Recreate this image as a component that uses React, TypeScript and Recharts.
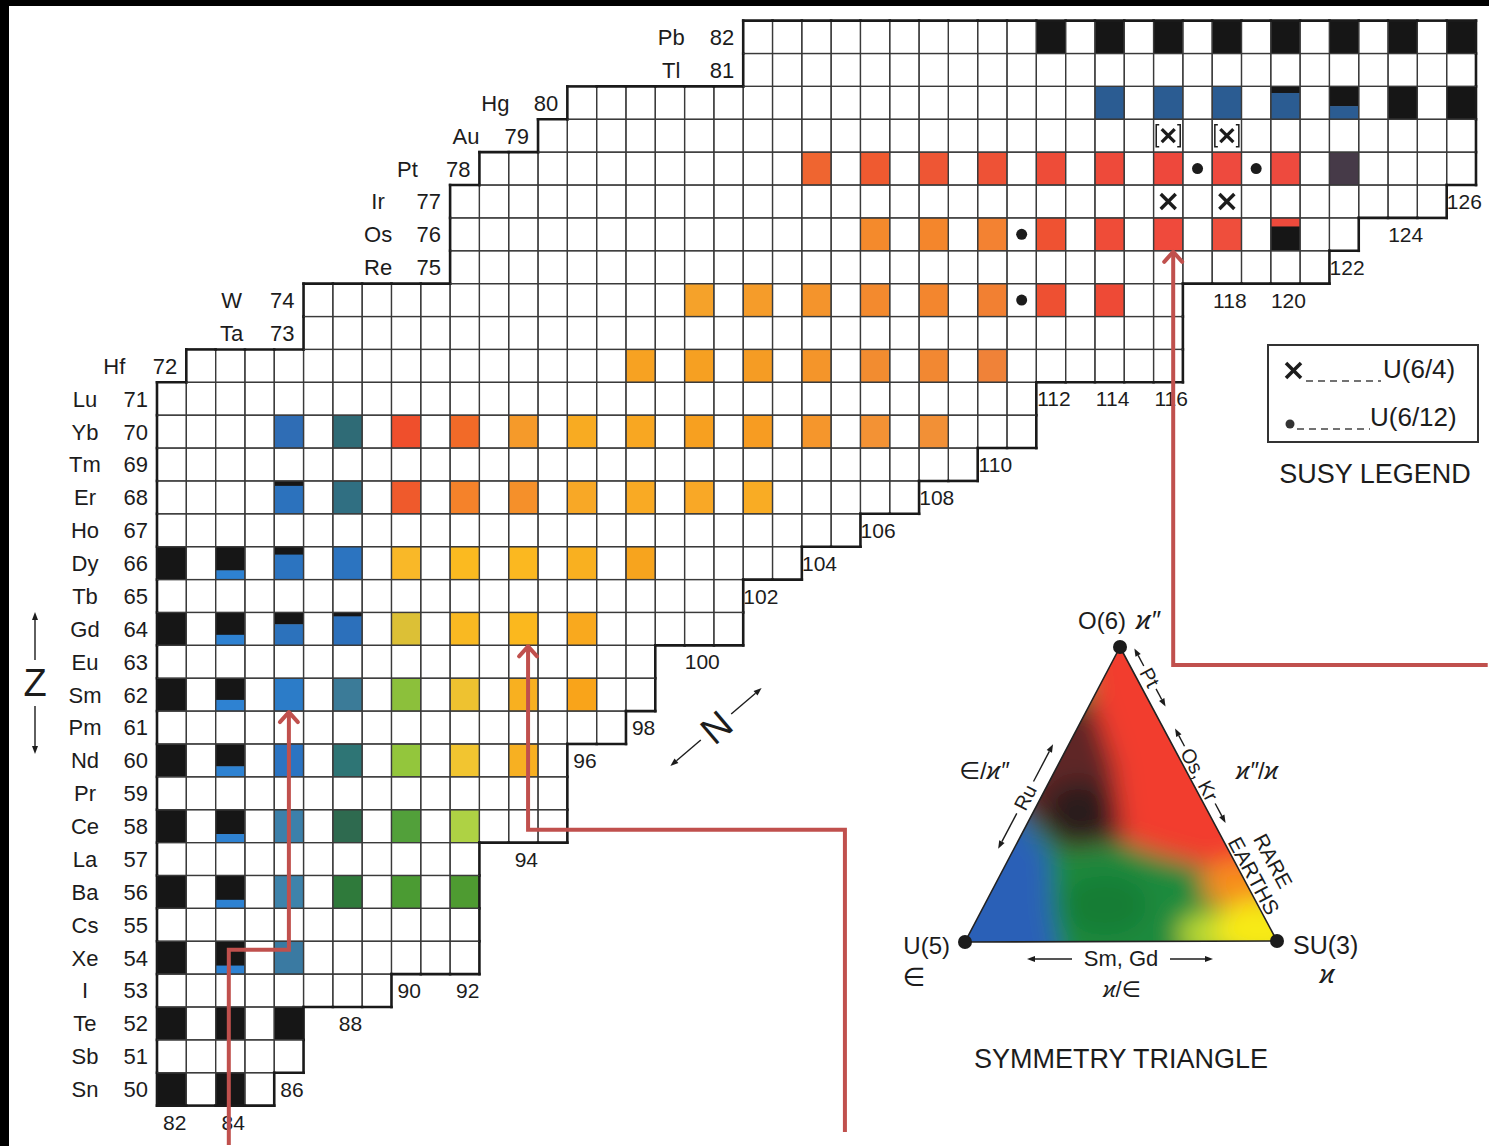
import React from 'react';
import { ScatterChart, Scatter, XAxis, YAxis } from 'recharts';

const CHART_W = 1489;
const CHART_H = 1146;
const N_DOMAIN: [number, number] = [76.144, 126.944];
const Z_DOMAIN: [number, number] = [48.272, 83.128];
const CELL_W = CHART_W / (N_DOMAIN[1] - N_DOMAIN[0]);
const CELL_H = CHART_H / (Z_DOMAIN[1] - Z_DOMAIN[0]);
const FONT = "'Liberation Sans', Arial, Helvetica, 'DejaVu Sans', sans-serif";
const INK = '#1c1c1c';
const RED = '#c0504d';
const BLACK = '#161616';

// Proton numbers (rows) and element symbols
const Z_VALUES = [50, 51, 52, 53, 54, 55, 56, 57, 58, 59, 60, 61, 62, 63, 64, 65, 66, 67, 68, 69, 70, 71, 72, 73, 74, 75, 76, 77, 78, 79, 80, 81, 82];
const ELEMENTS = ['Sn', 'Sb', 'Te', 'I', 'Xe', 'Cs', 'Ba', 'La', 'Ce', 'Pr', 'Nd', 'Pm', 'Sm', 'Eu', 'Gd', 'Tb', 'Dy', 'Ho', 'Er', 'Tm', 'Yb', 'Lu', 'Hf', 'Ta', 'W', 'Re', 'Os', 'Ir', 'Pt', 'Au', 'Hg', 'Tl', 'Pb'];
// Neutron-number range drawn in each row
const ROW_MIN_N = [82, 82, 82, 82, 82, 82, 82, 82, 82, 82, 82, 82, 82, 82, 82, 82, 82, 82, 82, 82, 82, 82, 83, 87, 87, 92, 92, 92, 93, 95, 96, 102, 102];
const ROW_MAX_N = [85, 86, 86, 89, 92, 92, 92, 92, 95, 95, 95, 97, 98, 98, 101, 101, 103, 105, 107, 109, 111, 111, 116, 116, 116, 121, 122, 125, 126, 126, 126, 126, 126];

// Neutron-number tick labels: [N, row in which the label sits]
const N_LABELS: [number, number][] = [
  [82, 49], [84, 49], [86, 50], [88, 52], [90, 53], [92, 53], [94, 57], [96, 60], [98, 61], [100, 63],
  [102, 65], [104, 66], [106, 67], [108, 68], [110, 69], [112, 71], [114, 71], [116, 71], [118, 74],
  [120, 74], [122, 75], [124, 76], [126, 77],
];

// [Z, N] closed-shell (black) cells
const BLACK_CELLS: [number, number][] = [
  [50, 82], [50, 84], [52, 82], [52, 84], [52, 86], [54, 82], [56, 82], [58, 82], [60, 82], [62, 82], [64, 82], [66, 82],
  [80, 124], [80, 126],
  [82, 112], [82, 114], [82, 116], [82, 118], [82, 120], [82, 122], [82, 124], [82, 126],
];

// [Z, N, top colour, bottom colour, top fraction]
const SPLIT_CELLS: [number, number, string, string, number][] = [
  [54, 84, BLACK, '#2e82d2', 0.74], [56, 84, BLACK, '#2e82d2', 0.74], [58, 84, BLACK, '#2e82d2', 0.74],
  [60, 84, BLACK, '#2e82d2', 0.68], [62, 84, BLACK, '#2e82d2', 0.66], [64, 84, BLACK, '#2e82d2', 0.68],
  [66, 84, BLACK, '#2e82d2', 0.72],
  [64, 86, BLACK, '#2c72bc', 0.36], [66, 86, BLACK, '#2c74c0', 0.24], [68, 86, BLACK, '#2c72bd', 0.15],
  [64, 88, BLACK, '#2c70bb', 0.12],
  [80, 120, BLACK, '#2b5c92', 0.2], [80, 122, BLACK, '#2b5c92', 0.6],
  [76, 120, '#ee4a3c', BLACK, 0.26],
];

// [Z, N, colour] from the symmetry triangle
const COLOR_CELLS: [number, number, string][] = [
  [54, 86, '#3a7aa2'],
  [56, 86, '#3e83ab'], [56, 88, '#2f7a3b'], [56, 90, '#4b9b33'], [56, 92, '#4e9b31'],
  [58, 86, '#3c80aa'], [58, 88, '#2e6a4f'], [58, 90, '#52a03a'], [58, 92, '#aed244'],
  [60, 86, '#2b74c2'], [60, 88, '#2e7575'], [60, 90, '#93c63c'], [60, 92, '#f2c530'], [60, 94, '#f7b022'],
  [62, 86, '#2c7cc8'], [62, 88, '#3b7b98'], [62, 90, '#8cc03b'], [62, 92, '#eec230'], [62, 94, '#f8b020'], [62, 96, '#f9a41a'],
  [64, 90, '#dcc036'], [64, 92, '#f9b922'], [64, 94, '#fbb81e'], [64, 96, '#f9a91e'],
  [66, 88, '#2c74c0'], [66, 90, '#f9b828'], [66, 92, '#fbba20'], [66, 94, '#fbb820'], [66, 96, '#f9b020'], [66, 98, '#f7a41e'],
  [68, 88, '#306f82'], [68, 90, '#ef5a2c'], [68, 92, '#f5822a'], [68, 94, '#f5902a'], [68, 96, '#f8a826'], [68, 98, '#f9aa24'], [68, 100, '#f9a826'], [68, 102, '#f9ac24'],
  [70, 86, '#2f6db5'], [70, 88, '#2f6b76'], [70, 90, '#ef4f2c'], [70, 92, '#f26a28'], [70, 94, '#f59a2a'], [70, 96, '#f8ab22'], [70, 98, '#f8a722'], [70, 100, '#f7a020'], [70, 102, '#f79c22'], [70, 104, '#f5962c'], [70, 106, '#f39234'], [70, 108, '#f29036'],
  [72, 98, '#f7a222'], [72, 100, '#f6a022'], [72, 102, '#f59c24'], [72, 104, '#f4952a'], [72, 106, '#f28c30'], [72, 108, '#f28832'], [72, 110, '#f08238'],
  [74, 100, '#f5a22a'], [74, 102, '#f59c2a'], [74, 104, '#f4942c'], [74, 106, '#f38a2e'], [74, 108, '#f3862e'], [74, 110, '#f28032'], [74, 112, '#ee5032'], [74, 114, '#ee4a36'],
  [76, 106, '#f48a2c'], [76, 108, '#f4862c'], [76, 110, '#f38232'], [76, 112, '#ef5232'], [76, 114, '#ef4c38'], [76, 116, '#ef4a3c'], [76, 118, '#ef4e3c'],
  [78, 104, '#ef6530'], [78, 106, '#ef5a30'], [78, 108, '#ee5634'], [78, 110, '#ee5236'], [78, 112, '#ee4c38'], [78, 114, '#ee4a3a'], [78, 116, '#ee483c'], [78, 118, '#ee4a3e'], [78, 120, '#ee4a3e'], [78, 122, '#463a48'],
  [80, 114, '#2b5c92'], [80, 116, '#2b5c92'], [80, 118, '#2b5c92'],
];

// SUSY markers [Z, N]
const U612_DOTS: [number, number][] = [[78, 117], [78, 119], [76, 111], [74, 111]];
const U64_CROSSES: [number, number][] = [[77, 116], [77, 118]];
const U64_BRACKETED: [number, number][] = [[79, 116], [79, 118]];

// Red pointer lines, vertices as [N, Z]
const ARROW_SM: [number, number][] = [[83.95, 48.3], [83.95, 54.24], [86.0, 54.24], [86.0, 61.5]];
const ARROW_GD: [number, number][] = [[104.97, 48.7], [104.97, 57.89], [94.16, 57.89], [94.16, 63.5]];
const ARROW_OS: [number, number][] = [[126.9, 62.9], [116.17, 62.9], [116.17, 75.5]];

// ---------- derived tables ----------
const key = (z: number, n: number) => `${z}:${n}`;
const hasCell = (z: number, n: number) => {
  const i = Z_VALUES.indexOf(z);
  if (i < 0) return false;
  return n >= ROW_MIN_N[i] && n <= ROW_MAX_N[i];
};
const fillMap = new Map<string, any>();
BLACK_CELLS.forEach(([z, n]) => fillMap.set(key(z, n), { fill: BLACK }));
COLOR_CELLS.forEach(([z, n, c]) => fillMap.set(key(z, n), { fill: c }));
SPLIT_CELLS.forEach(([z, n, t, b, f]) => fillMap.set(key(z, n), { fill: b, top: t, bottom: b, frac: f }));

const GRID_CELLS: any[] = [];
Z_VALUES.forEach((z, i) => {
  for (let n = ROW_MIN_N[i]; n <= ROW_MAX_N[i]; n++) {
    GRID_CELLS.push({ n, z, ...(fillMap.get(key(z, n)) || { fill: '#ffffff' }) });
  }
});
const Z_LABEL_DATA = Z_VALUES.map((z, i) => ({ n: ROW_MIN_N[i] - 0.5, z, sym: ELEMENTS[i] }));
const N_LABEL_DATA = N_LABELS.map(([n, z]) => ({ n, z }));
const toPts = (arr: [number, number][]) => arr.map(([z, n]) => ({ n, z }));
const toArrow = (arr: [number, number][]) => arr.map(([n, z], i) => ({ n, z, tip: i === arr.length - 1 }));

// ---------- shapes ----------
const CellFill = (p: any) => {
  const { cx, cy, payload } = p;
  if (cx == null || cy == null) return <g />;
  const x = cx - CELL_W / 2;
  const y = cy - CELL_H / 2;
  if (payload.top) {
    const h1 = CELL_H * payload.frac;
    return (
      <g>
        <rect x={x} y={y} width={CELL_W} height={h1 + 0.5} fill={payload.top} />
        <rect x={x} y={y + h1} width={CELL_W} height={CELL_H - h1} fill={payload.bottom} />
      </g>
    );
  }
  return <rect x={x} y={y} width={CELL_W} height={CELL_H} fill={payload.fill} />;
};

const THIN = 1.25;
const THICK = 2.6;
const CellGrid = (p: any) => {
  const { cx, cy, payload } = p;
  if (cx == null || cy == null) return <g />;
  const { n, z } = payload;
  const x0 = cx - CELL_W / 2, x1 = cx + CELL_W / 2, y0 = cy - CELL_H / 2, y1 = cy + CELL_H / 2;
  const edge = (a: number, b: number, c: number, d: number, inner: boolean) => (
    <line x1={a} y1={b} x2={c} y2={d} stroke={inner ? '#3a3a3a' : '#1a1a1a'} strokeWidth={inner ? THIN : THICK} strokeLinecap={inner ? 'butt' : 'square'} />
  );
  return (
    <g>
      {edge(x0, y0, x0, y1, hasCell(z, n - 1))}
      {edge(x1, y0, x1, y1, hasCell(z, n + 1))}
      {edge(x0, y0, x1, y0, hasCell(z + 1, n))}
      {edge(x0, y1, x1, y1, hasCell(z - 1, n))}
    </g>
  );
};

const DotMark = (p: any) => (p.cx == null ? <g /> : <circle cx={p.cx} cy={p.cy} r={5.5} fill={INK} />);
const crossLines = (cx: number, cy: number, s: number, w: number) => (
  <g stroke={INK} strokeWidth={w} strokeLinecap="butt">
    <line x1={cx - s} y1={cy - s} x2={cx + s} y2={cy + s} />
    <line x1={cx - s} y1={cy + s} x2={cx + s} y2={cy - s} />
  </g>
);
const CrossMark = (p: any) => (p.cx == null ? <g /> : crossLines(p.cx, p.cy, 7.5, 3.4));
const BracketMark = (p: any) => {
  if (p.cx == null) return <g />;
  const { cx, cy } = p;
  return (
    <g>
      {crossLines(cx, cy, 6.5, 3.2)}
      <path d={`M${cx - 9} ${cy - 11} L${cx - 12} ${cy - 11} L${cx - 12} ${cy + 11} L${cx - 9} ${cy + 11}`} fill="none" stroke={INK} strokeWidth={1.5} />
      <path d={`M${cx + 9} ${cy - 11} L${cx + 12} ${cy - 11} L${cx + 12} ${cy + 11} L${cx + 9} ${cy + 11}`} fill="none" stroke={INK} strokeWidth={1.5} />
    </g>
  );
};

const ZLabel = (p: any) => {
  if (p.cx == null) return <g />;
  const { cx, cy, payload } = p;
  return (
    <g fontFamily={FONT} fontSize={22} fill={INK}>
      <text x={cx - 72} y={cy} dy="0.36em" textAnchor="middle">{payload.sym}</text>
      <text x={cx - 9} y={cy} dy="0.36em" textAnchor="end">{payload.z}</text>
    </g>
  );
};

const NLabel = (p: any) => {
  if (p.cx == null) return <g />;
  return (
    <text x={p.cx + 3} y={p.cy} dy="0.36em" textAnchor="middle" fontFamily={FONT} fontSize={21} fill={INK}>
      {p.payload.n}
    </text>
  );
};

const ArrowTip = (p: any) => {
  if (p.cx == null || !p.payload.tip) return <g />;
  const { cx, cy } = p;
  return <path d={`M${cx - 9} ${cy + 11} L${cx} ${cy + 1} L${cx + 9} ${cy + 11}`} fill="none" stroke={RED} strokeWidth={4} strokeLinecap="round" strokeLinejoin="round" />;
};

// ---------- decorations (legend, axes names, symmetry triangle) ----------
const TRI_TOP: [number, number] = [1120, 647];
const TRI_L: [number, number] = [965, 942];
const TRI_R: [number, number] = [1277, 941];
const RDIR = [0.472, 0.881];
const RNORM = [0.881, -0.472];
const LDIR = [0.465, -0.885];
const LNORM = [-0.885, -0.465];
const onRight = (t: number, nn: number) => [TRI_TOP[0] + t * RDIR[0] + nn * RNORM[0], TRI_TOP[1] + t * RDIR[1] + nn * RNORM[1]];
const onLeft = (t: number, nn: number) => [TRI_L[0] + t * LDIR[0] + nn * LNORM[0], TRI_L[1] + t * LDIR[1] + nn * LNORM[1]];

const SmallArrow = ({ from, to }: { from: number[]; to: number[] }) => {
  const dx = to[0] - from[0], dy = to[1] - from[1];
  const L = Math.hypot(dx, dy);
  const ux = dx / L, uy = dy / L;
  const bx = to[0] - ux * 8, by = to[1] - uy * 8;
  return (
    <g>
      <line x1={from[0]} y1={from[1]} x2={bx} y2={by} stroke={INK} strokeWidth={1.4} />
      <polygon points={`${to[0]},${to[1]} ${bx - uy * 3},${by + ux * 3} ${bx + uy * 3},${by - ux * 3}`} fill={INK} />
    </g>
  );
};

const RotText = ({ at, angle, size, children }: any) => (
  <text x={at[0]} y={at[1]} dy="0.36em" textAnchor="middle" fontSize={size} transform={`rotate(${angle} ${at[0]} ${at[1]})`}>{children}</text>
);

const Decor = () => {
  const nDir = [Math.cos((40.5 * Math.PI) / 180), -Math.sin((40.5 * Math.PI) / 180)];
  const nc = [716, 727];
  const np = (d: number) => [nc[0] + nDir[0] * d, nc[1] + nDir[1] * d];
  return (
    <svg width={CHART_W} height={CHART_H} style={{ position: 'absolute', left: 0, top: 0, pointerEvents: 'none' }} fontFamily={FONT} fill={INK}>
      <defs>
        <clipPath id="triClip">
          <polygon points={`${TRI_TOP.join(',')} ${TRI_L.join(',')} ${TRI_R.join(',')}`} />
        </clipPath>
        <filter id="triBlur" filterUnits="userSpaceOnUse" x={880} y={580} width={460} height={420}>
          <feGaussianBlur stdDeviation={12} />
        </filter>
      </defs>
      {/* frame */}
      <rect x={0} y={0} width={CHART_W} height={6} fill="#000" />
      <rect x={0} y={0} width={9} height={CHART_H} fill="#000" />

      {/* Z indicator */}
      <text x={35} y={696} fontSize={38} textAnchor="middle">Z</text>
      <SmallArrow from={[35, 660]} to={[35, 612]} />
      <SmallArrow from={[35, 706]} to={[35, 754]} />

      {/* N indicator */}
      <SmallArrow from={np(-20)} to={np(-60)} />
      <SmallArrow from={np(20)} to={np(60)} />
      <text x={nc[0]} y={nc[1]} dy="0.36em" textAnchor="middle" fontSize={38} transform={`rotate(-40.5 ${nc[0]} ${nc[1]})`}>N</text>

      {/* SUSY legend */}
      <rect x={1268} y={345} width={210} height={97} fill="#fff" stroke="#333" strokeWidth={2} />
      <g stroke={INK} strokeWidth={3.6}>
        <line x1={1286} y1={363} x2={1301} y2={378} />
        <line x1={1286} y1={378} x2={1301} y2={363} />
      </g>
      <line x1={1306} y1={381} x2={1381} y2={381} stroke="#444" strokeWidth={1.4} strokeDasharray="7 5" />
      <text x={1383} y={378} fontSize={26}>U(6/4)</text>
      <circle cx={1290} cy={424} r={4.5} fill="#333" />
      <line x1={1297} y1={429} x2={1370} y2={429} stroke="#444" strokeWidth={1.4} strokeDasharray="7 5" />
      <text x={1370} y={426} fontSize={26}>U(6/12)</text>
      <text x={1375} y={483} fontSize={27} textAnchor="middle">SUSY LEGEND</text>

      {/* symmetry triangle */}
      <g clipPath="url(#triClip)">
        <g filter="url(#triBlur)">
          <rect x={900} y={600} width={420} height={380} fill="#1d8a3e" />
          <polygon points="1320,600 1320,888 1240,882 1194,864 1154,853 1124,842 1114,765 1092,700 1075,600" fill="#f23c2e" />
          <polygon points="1092,700 1114,765 1124,842 1066,850 998,790 1040,712" fill="#5e2626" />
          <ellipse cx={1078} cy={812} rx={34} ry={32} fill="#2a1a1c" />
          <polygon points="900,980 900,790 1002,790 1050,855 1052,910 1064,980" fill="#2a60b7" />
          <ellipse cx={1105} cy={905} rx={42} ry={30} fill="#157d34" />
          <ellipse cx={1238} cy={884} rx={36} ry={24} fill="#f78e1c" />
          <ellipse cx={1210} cy={934} rx={32} ry={22} fill="#b9d932" />
          <ellipse cx={1260} cy={930} rx={46} ry={30} fill="#f8ea18" />
        </g>
      </g>
      <polygon points={`${TRI_TOP.join(',')} ${TRI_L.join(',')} ${TRI_R.join(',')}`} fill="none" stroke="#222" strokeWidth={1.6} />
      <circle cx={TRI_TOP[0]} cy={TRI_TOP[1]} r={7} fill={INK} />
      <circle cx={TRI_L[0]} cy={TRI_L[1]} r={7} fill={INK} />
      <circle cx={TRI_R[0]} cy={TRI_R[1]} r={7} fill={INK} />

      <text x={1102} y={629} fontSize={24} textAnchor="middle">O(6)</text>
      <text x={1136} y={629} fontSize={26} fontStyle="italic">ϰ″</text>
      <text x={950} y={954} fontSize={24} textAnchor="end">U(5)</text>
      <text x={914} y={986} fontSize={26} textAnchor="middle">∈</text>
      <text x={1293} y={954} fontSize={25}>SU(3)</text>
      <text x={1327} y={983} fontSize={26} textAnchor="middle" fontStyle="italic">ϰ</text>
      <text x={1121} y={966} fontSize={22} textAnchor="middle">Sm, Gd</text>
      <SmallArrow from={[1072, 959]} to={[1027, 959]} />
      <SmallArrow from={[1170, 959]} to={[1213, 959]} />
      <text x={1122} y={997} fontSize={22} textAnchor="middle"><tspan fontStyle="italic">ϰ</tspan>/∈</text>
      <text x={984} y={779} fontSize={24} textAnchor="middle">∈/<tspan fontStyle="italic">ϰ″</tspan></text>
      <text x={1257} y={779} fontSize={24} textAnchor="middle"><tspan fontStyle="italic">ϰ″</tspan>/<tspan fontStyle="italic">ϰ</tspan></text>

      {/* left edge: Ru */}
      <SmallArrow from={onLeft(138, 14)} to={onLeft(98, 14)} />
      <RotText at={onLeft(156, 14)} angle={-62.3} size={20}>Ru</RotText>
      <SmallArrow from={onLeft(174, 14)} to={onLeft(216, 14)} />

      {/* right edge: Pt, Os, Kr, RARE EARTHS */}
      <SmallArrow from={onRight(28, 12)} to={onRight(8, 12)} />
      <RotText at={onRight(41, 12)} angle={61.8} size={20}>Pt</RotText>
      <SmallArrow from={onRight(54, 12)} to={onRight(74, 12)} />
      <SmallArrow from={onRight(118, 10)} to={onRight(98, 10)} />
      <RotText at={onRight(150, 10)} angle={61.8} size={20}>Os, Kr</RotText>
      <SmallArrow from={onRight(183, 10)} to={onRight(205, 10)} />
      <RotText at={onRight(261, 34)} angle={61.8} size={21}>RARE</RotText>
      <RotText at={onRight(265, 10)} angle={61.8} size={21}>EARTHS</RotText>

      <text x={1121} y={1068} fontSize={27} textAnchor="middle">SYMMETRY TRIANGLE</text>
    </svg>
  );
};

export default function App() {
  return (
    <div style={{ position: 'absolute', left: 0, top: 0, width: CHART_W, height: CHART_H, background: '#fff', overflow: 'hidden' }}>
      <ScatterChart width={CHART_W} height={CHART_H} margin={{ top: 0, right: 0, bottom: 0, left: 0 }}>
        <XAxis type="number" dataKey="n" domain={N_DOMAIN} hide />
        <YAxis type="number" dataKey="z" domain={Z_DOMAIN} hide />
        <Scatter data={GRID_CELLS} shape={CellFill} isAnimationActive={false} />
        <Scatter data={GRID_CELLS} shape={CellGrid} isAnimationActive={false} />
        <Scatter data={toPts(U612_DOTS)} shape={DotMark} isAnimationActive={false} />
        <Scatter data={toPts(U64_CROSSES)} shape={CrossMark} isAnimationActive={false} />
        <Scatter data={toPts(U64_BRACKETED)} shape={BracketMark} isAnimationActive={false} />
        <Scatter data={Z_LABEL_DATA} shape={ZLabel} isAnimationActive={false} />
        <Scatter data={N_LABEL_DATA} shape={NLabel} isAnimationActive={false} />
        <Scatter data={toArrow(ARROW_SM)} shape={ArrowTip} line={{ stroke: RED, strokeWidth: 4 }} lineType="joint" isAnimationActive={false} />
        <Scatter data={toArrow(ARROW_GD)} shape={ArrowTip} line={{ stroke: RED, strokeWidth: 4 }} lineType="joint" isAnimationActive={false} />
        <Scatter data={toArrow(ARROW_OS)} shape={ArrowTip} line={{ stroke: RED, strokeWidth: 4 }} lineType="joint" isAnimationActive={false} />
      </ScatterChart>
      <Decor />
    </div>
  );
}
